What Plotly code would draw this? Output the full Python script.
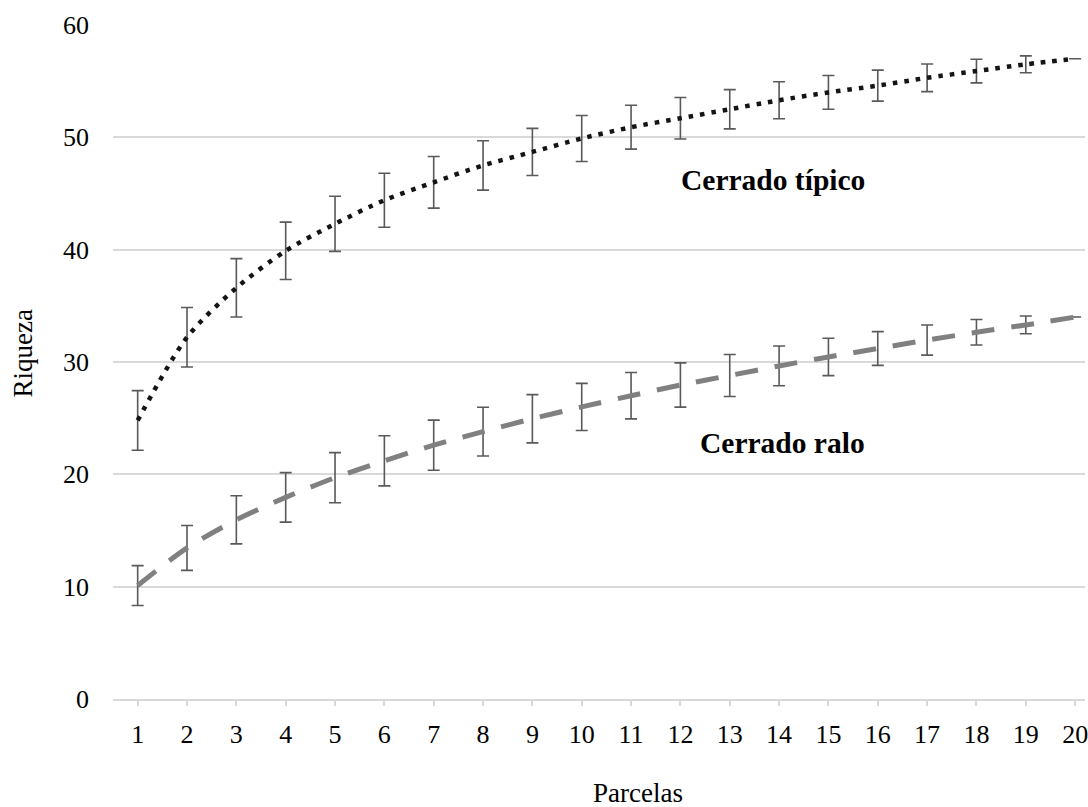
import plotly.graph_objects as go

parcelas = list(range(1, 21))
tick_labels = [str(p) for p in parcelas]

tipico_mean = [24.8, 32.2, 36.6, 39.9, 42.3, 44.4, 46.0, 47.5, 48.7, 49.9,
               50.9, 51.7, 52.5, 53.3, 54.0, 54.6, 55.3, 55.9, 56.5, 57.0]
tipico_err = [2.65, 2.65, 2.6, 2.55, 2.45, 2.4, 2.3, 2.2, 2.1, 2.05,
              1.95, 1.85, 1.75, 1.65, 1.5, 1.38, 1.23, 1.05, 0.75, 0.0]

ralo_mean = [10.1, 13.45, 15.95, 17.95, 19.7, 21.2, 22.6, 23.8, 24.95, 26.0,
             27.0, 27.95, 28.8, 29.65, 30.45, 31.2, 31.95, 32.65, 33.3, 34.0]
ralo_err = [1.77, 2.0, 2.14, 2.2, 2.23, 2.23, 2.23, 2.17, 2.15, 2.1,
            2.06, 1.97, 1.87, 1.77, 1.66, 1.5, 1.34, 1.13, 0.79, 0.0]

FONT = "Times New Roman, Liberation Serif, serif"

fig = go.Figure()

fig.add_trace(go.Scatter(
    x=parcelas, y=ralo_mean, mode="lines", name="Cerrado ralo",
    line=dict(color="#808080", width=5, dash="23px,17px", shape="spline", smoothing=0.8),
    error_y=dict(type="data", array=ralo_err, visible=True, color="#595959", thickness=1.6, width=6),
    showlegend=False,
))
fig.add_trace(go.Scatter(
    x=parcelas, y=tipico_mean, mode="lines", name="Cerrado típico",
    line=dict(color="#141414", width=4.5, dash="4.5px,7px", shape="spline", smoothing=0.8),
    error_y=dict(type="data", array=tipico_err, visible=True, color="#595959", thickness=1.6, width=6),
    showlegend=False,
))

fig.add_annotation(x=13.88, y=46.2, text="<b>Cerrado típico</b>", showarrow=False,
                   font=dict(family=FONT, size=29.5, color="#000000"))
fig.add_annotation(x=14.06, y=22.8, text="<b>Cerrado ralo</b>", showarrow=False,
                   font=dict(family=FONT, size=29.5, color="#000000"))

# axis titles
fig.add_annotation(xref="paper", yref="paper", x=0.5405, y=-0.1395, text="Parcelas",
                   showarrow=False, xanchor="center", yanchor="middle",
                   font=dict(family=FONT, size=27, color="#000000"))
fig.add_annotation(xref="paper", yref="paper", x=-0.0923, y=0.513, text="Riqueza",
                   showarrow=False, xanchor="center", yanchor="middle", textangle=-90,
                   font=dict(family=FONT, size=27, color="#000000"))

fig.update_layout(
    width=1088, height=807,
    margin=dict(l=113, r=0, t=25, b=108),
    paper_bgcolor="white", plot_bgcolor="white",
    font=dict(family=FONT, size=26, color="#000000"),
    xaxis=dict(
        range=[0.5, 20.2], tickvals=parcelas, ticktext=tick_labels,
        showgrid=False, zeroline=False,
        showline=True, linecolor="#d9d9d9", linewidth=1.5,
        ticks="outside", ticklen=5, tickcolor="#d9d9d9", tickwidth=1.5,
        ticklabelstandoff=6, ticklabeloverflow="allow",
        tickfont=dict(family=FONT, size=26, color="#000000"),
    ),
    yaxis=dict(
        range=[0, 60], dtick=10,
        showgrid=True, gridcolor="#d9d9d9", gridwidth=1.5,
        zeroline=True, zerolinecolor="#d9d9d9", zerolinewidth=1.5,
        showline=False, ticks="", ticklabelstandoff=23,
        tickfont=dict(family=FONT, size=26, color="#000000"),
    ),
)

fig.write_html("out.html")
